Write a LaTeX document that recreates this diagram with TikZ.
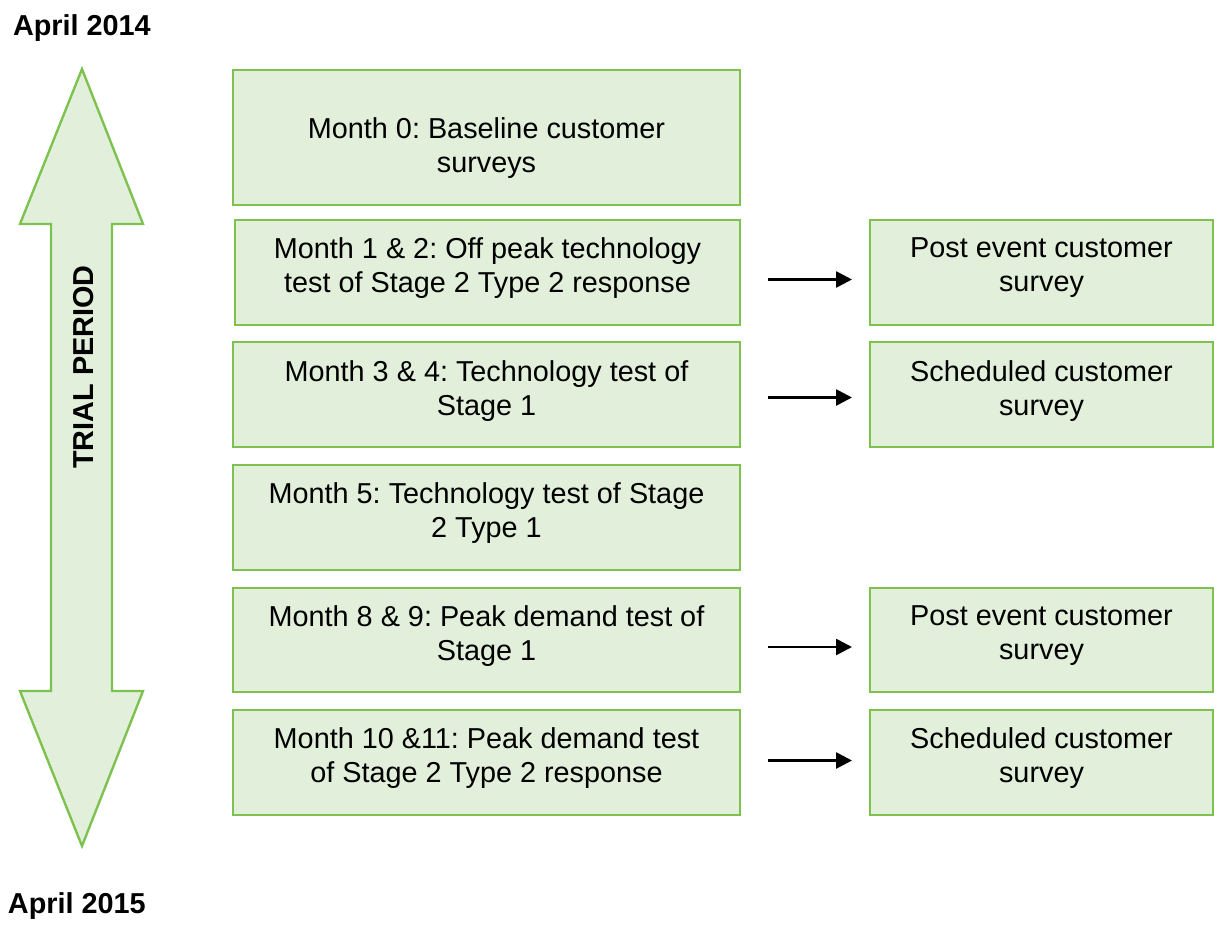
\documentclass[tikz,border=0pt]{standalone}
\usepackage{fontspec}
\setmainfont{Liberation Sans}
\frenchspacing
\usetikzlibrary{calc,arrows.meta}
\definecolor{boxfill}{HTML}{E2EFDA}
\definecolor{boxline}{HTML}{7DC24F}
\begin{document}
\begin{tikzpicture}[x=0.02cm,y=-0.02cm,
  every node/.style={font=\fontsize{16.4}{19.4}\selectfont, inner sep=0pt, outer sep=0pt},
  box/.style={draw=boxline, fill=boxfill, line width=1.35pt, minimum width=#1*0.02cm},
  txt/.style={align=center, text=black},
  conn/.style={line width=1.5pt, -{Triangle[length=9pt,width=9pt]}}]
\useasboundingbox (0,0) rectangle (1214,929);

% double-headed trial period arrow
\draw[draw=boxline, fill=boxfill, line width=1.35pt, line join=miter]
  (82,69) -- (143,224) -- (112,224) -- (112,691) -- (143,691) -- (82,846)
  -- (20,691) -- (51,691) -- (51,224) -- (20,224) -- cycle;
\node[rotate=90, font=\fontsize{16.4}{19.4}\selectfont\bfseries] (tp) at (84,367) {TRIAL PERIOD};

\node[anchor=west, font=\fontsize{16.4}{19.4}\selectfont\bfseries] (start) at (13,28) {April 2014};
\node[anchor=west, font=\fontsize{16.4}{19.4}\selectfont\bfseries] (end) at (8,906) {April 2015};

% timeline boxes
\node[box=507, minimum height=135*0.02cm] (b1) at (486.5,137.5) {};
\node[box=505, minimum height=105*0.02cm] (b2) at (487.5,272.5) {};
\node[box=507, minimum height=105*0.02cm] (b3) at (486.5,394.5) {};
\node[box=507, minimum height=105*0.02cm] (b4) at (486.5,517.5) {};
\node[box=507, minimum height=104*0.02cm] (b5) at (486.5,640) {};
\node[box=507, minimum height=105*0.02cm] (b6) at (486.5,762.5) {};

\node[txt] (t1) at (486.5,148) {Month 0: Baseline customer\\surveys};
\node[txt] (t2) at (487.5,268) {Month 1 \& 2: Off peak technology\\test of Stage 2 Type 2 response};
\node[txt] (t3) at (486.5,391) {Month 3 \& 4: Technology test of\\Stage 1};
\node[txt] (t4) at (486.5,513) {Month 5: Technology test of Stage\\2 Type 1};
\node[txt] (t5) at (486.5,636) {Month 8 \& 9: Peak demand test of\\Stage 1};
\node[txt] (t6) at (486.5,758) {Month 10 \&11: Peak demand test\\of Stage 2 Type 2 response};

% survey boxes
\node[box=343, minimum height=105*0.02cm] (r2) at (1041.5,272.5) {};
\node[box=343, minimum height=105*0.02cm] (r3) at (1041.5,394.5) {};
\node[box=343, minimum height=104*0.02cm] (r5) at (1041.5,640) {};
\node[box=343, minimum height=105*0.02cm] (r6) at (1041.5,762.5) {};

\node[txt] (s2) at (1041.5,268) {Post event customer\\survey};
\node[txt] (s3) at (1041.5,391) {Scheduled customer\\survey};
\node[txt] (s5) at (1041.5,636) {Post event customer\\survey};
\node[txt] (s6) at (1041.5,758) {Scheduled customer\\survey};

% connectors
\draw[conn] ($(b2.east)+(28,7)$) -- ($(r2.west)+(-18,7)$);
\draw[conn] ($(b3.east)+(28,3)$) -- ($(r3.west)+(-18,3)$);
\draw[conn] ($(b5.east)+(28,7)$) -- ($(r5.west)+(-18,7)$);
\draw[conn] ($(b6.east)+(28,-2)$) -- ($(r6.west)+(-18,-2)$);
\end{tikzpicture}
\end{document}
